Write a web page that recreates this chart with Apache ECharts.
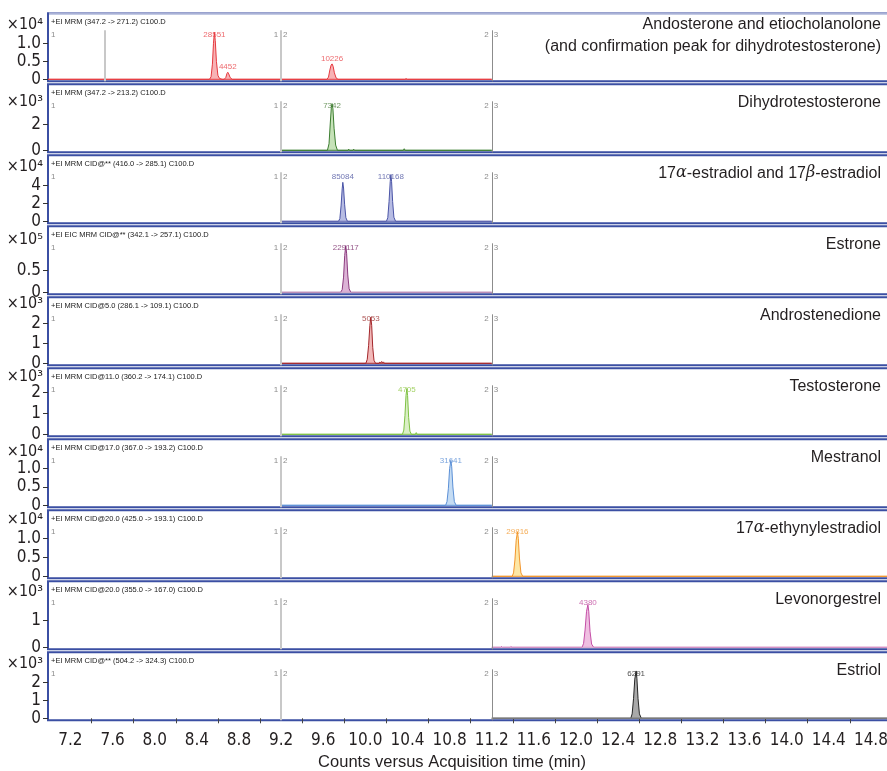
<!DOCTYPE html>
<html><head><meta charset="utf-8">
<script src="https://cdn.jsdelivr.net/npm/echarts@6/dist/echarts.min.js"></script>
<style>html,body{margin:0;padding:0;background:#fff}#c{width:887px;height:771px}</style>
</head><body><div id="c"></div>
<script>
// ---------------- DATA ----------------
const xTickLabels = [7.2,7.6,8.0,8.4,8.8,9.2,9.6,10.0,10.4,10.8,11.2,11.6,12.0,12.4,12.8,13.2,13.6,14.0,14.4,14.8];
const xMinorTicks = [7.4,7.8,8.2,8.6,9.0,9.4,9.8,10.2,10.6,11.0,11.4,11.8,12.2,12.6,13.0,13.4,13.8,14.2,14.6];

const headers = [
  '+EI MRM (347.2 -> 271.2) C100.D',
  '+EI MRM (347.2 -> 213.2) C100.D',
  '+EI MRM CID@** (416.0 -> 285.1) C100.D',
  '+EI EIC MRM CID@** (342.1 -> 257.1) C100.D',
  '+EI MRM CID@5.0 (286.1 -> 109.1) C100.D',
  '+EI MRM CID@11.0 (360.2 -> 174.1) C100.D',
  '+EI MRM CID@17.0 (367.0 -> 193.2) C100.D',
  '+EI MRM CID@20.0 (425.0 -> 193.1) C100.D',
  '+EI MRM CID@20.0 (355.0 -> 167.0) C100.D',
  '+EI MRM CID@** (504.2 -> 324.3) C100.D'
];
const titles = [
  ['Andosterone and etiocholanolone','(and confirmation peak for dihydrotestosterone)'],
  ['Dihydrotestosterone'],
  ['17{i|α}-estradiol and 17{i|β}-estradiol'],
  ['Estrone'],
  ['Androstenedione'],
  ['Testosterone'],
  ['Mestranol'],
  ['17{i|α}-ethynylestradiol'],
  ['Levonorgestrel'],
  ['Estriol']
];
const exponents = [4,3,4,5,3,3,4,4,3,3];
const yTicks = [
  [0,5000,10000],[0,2000],[0,20000,40000],[0,50000],[0,1000,2000],
  [0,1000,2000],[0,5000,10000],[0,5000,10000],[0,1000],[0,1000,2000]
];
const segmentBreaks = [9.2, 11.2];
const extraBreaksPanel1 = [7.529];

const trace1 = [[6.987,0],[8.520,0],[8.535,700],[8.548,4200],[8.558,10000],[8.567,13050],[8.575,10800],[8.586,5000],[8.600,1100],[8.615,250],[8.640,0],
  [8.660,0],[8.675,500],[8.686,1600],[8.694,1950],[8.703,1500],[8.716,500],[8.735,0],
  [9.635,0],[9.650,600],[9.663,2600],[9.675,3950],[9.684,4280],[9.694,3600],[9.706,1800],[9.722,400],[9.740,0],
  [10.375,0],[10.387,170],[10.400,0],[11.2,0]];
const trace2 = [[9.2,0],[9.640,0],[9.655,500],[9.667,2100],[9.677,3300],[9.684,3590],[9.692,3200],[9.703,1700],[9.718,400],[9.735,0],
  [9.835,0],[9.842,90],[9.850,0],[9.882,0],[9.889,90],[9.897,0],[10.360,0],[10.369,120],[10.378,0],[11.2,0]];
const trace3 = [[9.2,0],[9.745,0],[9.758,3000],[9.770,18000],[9.780,36000],[9.786,43300],[9.793,37000],[9.803,19000],[9.815,4000],[9.830,0],
  [10.200,0],[10.213,4000],[10.225,22000],[10.236,44000],[10.242,51900],[10.249,44000],[10.259,22000],[10.271,4500],[10.287,0],[11.2,0]];
const trace4 = [[9.2,0],[9.765,0],[9.780,6000],[9.793,35000],[9.804,85000],[9.814,107600],[9.822,90000],[9.833,40000],[9.846,8000],[9.862,0],[11.2,0]];
const trace5 = [[9.2,0],[10.005,0],[10.018,200],[10.031,900],[10.043,1900],[10.052,2300],[10.060,1900],[10.070,800],[10.082,150],[10.097,0],
  [10.130,0],[10.138,60],[10.146,20],[10.155,90],[10.163,20],[10.172,70],[10.180,0],[11.2,0]];
const trace6 = [[9.2,0],[10.352,0],[10.365,200],[10.376,900],[10.386,1850],[10.394,2180],[10.401,1850],[10.411,800],[10.423,150],[10.437,0],
  [10.475,0],[10.483,80],[10.492,0],[11.2,0]];
const trace7 = [[9.2,0],[10.762,0],[10.775,1000],[10.788,4500],[10.800,10000],[10.812,12260],[10.820,10500],[10.831,5000],[10.845,1000],[10.862,0],[11.2,0]];
const trace8 = [[11.2,0],[11.394,0],[11.407,900],[11.420,4300],[11.432,9500],[11.444,11660],[11.452,10000],[11.463,4800],[11.477,900],[11.494,0],[15.0,0]];
const trace9 = [[11.2,0],[11.285,0],[11.292,30],[11.300,0],[11.375,0],[11.382,30],[11.390,0],
  [12.058,0],[12.072,150],[12.086,650],[12.100,1350],[12.113,1600],[12.121,1350],[12.133,600],[12.148,120],[12.168,0],[15.0,0]];
const trace10 = [[11.2,0],[12.520,0],[12.533,250],[12.546,1100],[12.558,2200],[12.571,2660],[12.578,2250],[12.589,1100],[12.602,250],[12.620,0],[15.0,0]];
const traces = [trace1,trace2,trace3,trace4,trace5,trace6,trace7,trace8,trace9,trace10];

const peakLabels = [
  [[8.567,13050,'28551'],[8.694,1950,'4452'],[9.684,4280,'10226']],
  [[9.684,3590,'7342']],
  [[9.786,43300,'85084'],[10.242,51900,'110168']],
  [[9.814,107600,'229117']],
  [[10.052,2300,'5053']],
  [[10.394,2180,'4705']],
  [[10.812,12260,'31641']],
  [[11.444,11660,'29816']],
  [[12.113,1600,'4380']],
  [[12.571,2660,'6291']]
];

// ---------------- STYLE / LAYOUT ----------------
const lineColors = ['#e5383e','#3b7d2f','#4a54a6','#8b3a7e','#a3262a','#7dc142','#5a8fd6','#f2952b','#c44ea6','#262626'];
const baseColors = ['#e5383e','#3b7d2f','#5a62ad','#c49ac0','#a3262a','#7dc142','#5a8fd6','#f2952b','#d49ac8','#7a7a7a'];
const fillColors = ['#f7b3b5','#c6e2b8','#b7bce3','#dcb3d6','#f2b9b9','#dbefc6','#c5dcf3','#fde7a6','#efbfe1','#a9a9a9'];
const labelColors = ['#e8454a','#4a7d3a','#4d55a0','#7a2a6a','#9a2a2a','#8cc63f','#5a8fd6','#f29a30','#c04a9f','#222222'];
const pxPerCount = [0.0036,0.013,0.0009,0.000434,0.02,0.021,0.00367,0.0038,0.0267,0.0178];
const multOffset = [12,18,12,14,7,9,13,10,11,12];

const TOP0 = 13.3, PITCH = 71, PH = 68, BASE_OFF = 2;
const GL = 48, GW = 844, X_MIN = 6.987, X_MAX = 15.0;
const NARROW = '"Liberation Sans Narrow","DejaVu Sans Condensed","Arial Narrow",sans-serif';
const SANS = '"Liberation Sans",Arial,sans-serif';
const TXT = '#231f20';
const xPx = t => GL + (t - X_MIN) * GW / (X_MAX - X_MIN);

const grids = [], xAxes = [], yAxes = [], series = [], graphics = [];

for (let i = 0; i < 10; i++) {
  const top = TOP0 + PITCH * i, bottom = top + PH, base = bottom - BASE_OFF;
  const s = pxPerCount[i];
  const yMin = -BASE_OFF / s, yMax = (PH - BASE_OFF) / s;
  const yAt = px => (base - px) / s;
  const mult = Math.pow(10, exponents[i]);
  const frac = yTicks[i].some(v => (v / mult) % 1 !== 0);
  const tr = traces[i];
  grids.push({left: GL, top: top, width: GW, height: PH, show: true, borderColor: '#3b4fa3', borderWidth: 2,
    backgroundColor: '#fff', containLabel: false, outerBoundsMode: 'none'});
  xAxes.push({
    gridIndex: i, type: 'value', min: X_MIN, max: X_MAX,
    axisLine: {show: false}, splitLine: {show: false},
    axisTick: {show: i === 9, customValues: xMinorTicks, length: 5, lineStyle: {color: '#444'}},
    axisLabel: {show: i === 9, customValues: xTickLabels, formatter: v => v.toFixed(1), margin: 12,
      fontSize: 17, fontFamily: NARROW, color: TXT, hideOverlap: false}
  });
  yAxes.push({
    gridIndex: i, type: 'value', min: yMin, max: yMax,
    axisLine: {show: false}, splitLine: {show: false},
    axisTick: {show: true, customValues: yTicks[i], length: 5, lineStyle: {color: '#333'}},
    axisLabel: {customValues: yTicks[i], margin: 7, fontSize: 17, fontFamily: NARROW, color: TXT, hideOverlap: false,
      formatter: v => v === 0 ? '0' : (frac ? (v / mult).toFixed(1) : String(Math.round(v / mult)))}
  });
  const brks = (i === 0 ? extraBreaksPanel1 : []).concat(segmentBreaks);
  const mlData = brks.map(b => [
    {coord: [b, yAt(top + 17)], lineStyle: {color: b === 11.2 ? '#8c8c8c' : '#c8c8c8', width: b === 11.2 ? 1 : 2, type: 'solid'}},
    {coord: [b, yMin]}
  ]);
  series.push({
    type: 'custom', xAxisIndex: i, yAxisIndex: i, data: tr, encode: {x: 0, y: 1}, clip: true,
    z: 3, silent: true, animation: false,
    renderItem: (params, api) => {
      if (params.dataIndex !== 0) return null;
      const pts = tr.map(p => api.coord(p));
      const b0 = api.coord([tr[0][0], 0]), b1 = api.coord([tr[tr.length - 1][0], 0]);
      return {type: 'group', children: [
        {type: 'polygon', shape: {points: pts}, style: {fill: fillColors[i]}},
        {type: 'polyline', shape: {points: pts}, style: {stroke: lineColors[i], lineWidth: 1, fill: null}},
        {type: 'line', shape: {x1: b0[0], y1: b0[1], x2: b1[0], y2: b1[1]}, style: {stroke: baseColors[i], lineWidth: i === 9 ? 1.6 : 1}}
      ]};
    },
    markLine: {silent: true, symbol: ['none','none'], label: {show: false}, animation: false, data: mlData}
  });
  series.push({
    type: 'scatter', xAxisIndex: i, yAxisIndex: i, symbolSize: 1, itemStyle: {color: 'rgba(0,0,0,0)'},
    z: 6, silent: true, animation: false,
    label: {show: true, position: 'inside', formatter: '{b}', fontSize: 8, fontFamily: SANS, color: labelColors[i]},
    data: peakLabels[i].map(p => {
      const apexPx = base - p[1] * s;
      const want = Math.max(apexPx - 5.5, top + 21);
      return {value: [p[0], p[1]], name: p[2], label: {offset: [0, want - apexPx]}};
    })
  });
  graphics.push({type: 'text', x: 51, y: top + 9, z: 50, silent: true,
    style: {text: headers[i], fill: '#1a1a1a', fontSize: 7.5, fontFamily: SANS, verticalAlign: 'middle'}});
  graphics.push({type: 'text', x: 43, y: top + multOffset[i], z: 50, silent: true,
    style: {text: '×10' + ['⁰','¹','²','³','⁴','⁵'][exponents[i]], fill: TXT, fontSize: 16, fontFamily: NARROW, align: 'right', verticalAlign: 'middle'}});
  const segY = top + 21;
  const segs = [[51, '1', 'left'], [xPx(9.2) - 3, '1', 'right'], [xPx(9.2) + 2, '2', 'left'], [xPx(11.2) - 3, '2', 'right'], [xPx(11.2) + 2, '3', 'left']];
  segs.forEach(sg => graphics.push({type: 'text', x: sg[0], y: segY, z: 50, silent: true,
    style: {text: sg[1], fill: '#8c8c8c', fontSize: 8, fontFamily: SANS, align: sg[2], verticalAlign: 'middle'}}));
  const tl = titles[i];
  tl.forEach((t, k) => graphics.push({type: 'text', x: 881, y: top + (tl.length > 1 ? 11 + 22.5 * k : 18), z: 50, silent: true,
    style: {text: t, fill: TXT, fontSize: 16, fontFamily: SANS, align: 'right', verticalAlign: 'middle',
      rich: {i: {fontStyle: 'italic', fontFamily: '"DejaVu Serif",serif', fontSize: 16, fill: TXT}}}}));
}
graphics.push({type: 'line', z: 60, silent: true, shape: {x1: GL + 1, y1: TOP0, x2: 887, y2: TOP0}, style: {stroke: '#a9b1d6', lineWidth: 2}});
graphics.push({type: 'text', x: 452, y: 762, z: 50, silent: true,
  style: {text: 'Counts versus Acquisition time (min)', fill: TXT, fontSize: 16.5, fontFamily: SANS, align: 'center', verticalAlign: 'middle'}});

const chart = echarts.init(document.getElementById('c'), null, {renderer: 'canvas'});
chart.setOption({
  animation: false, backgroundColor: '#fff',
  grid: grids, xAxis: xAxes, yAxis: yAxes, series: series, graphic: graphics
});
</script></body></html>
